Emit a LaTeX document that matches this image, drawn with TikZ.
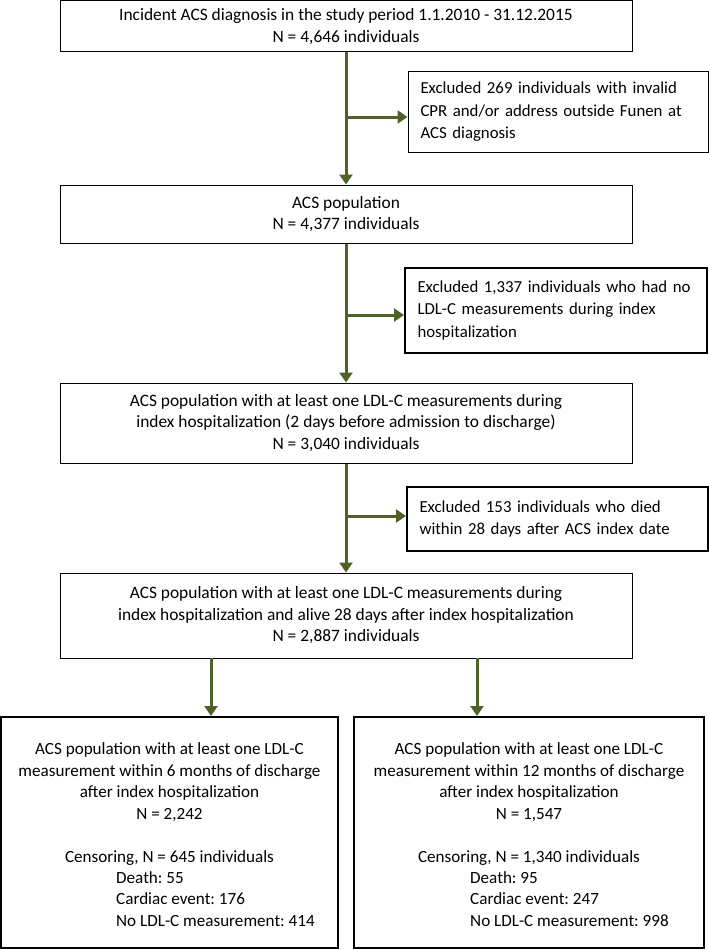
\documentclass[tikz,border=0pt]{standalone}
\usepackage{fontspec}
\setmainfont{Carlito}
\usetikzlibrary{arrows.meta,calc}
\definecolor{arrgreen}{HTML}{4F6228}
\frenchspacing
\begin{document}
\begin{tikzpicture}[x=1pt,y=-1pt,
  every node/.style={font=\fontsize{17.4}{21.5}\selectfont},
  mainbox/.style={draw=black,line width=1pt,inner sep=0pt,align=center},
  exbox/.style={draw=black,inner xsep=12.5pt,inner ysep=0pt,align=left,font=\fontsize{16.8}{22.5}\selectfont},
  finalbox/.style={draw=black,line width=2pt,inner sep=0pt},
  plain/.style={inner sep=0pt,font=\fontsize{17.1}{21.5}\selectfont},
  arr/.style={draw=arrgreen,line width=3pt,-{Triangle[width=13pt,length=10pt]}}]
\useasboundingbox (0,0) rectangle (709,950);

\node[mainbox,minimum width=572pt,minimum height=51pt] (b1) at (346,26.5)
  {Incident ACS diagnosis in the study period 1.1.2010 - 31.12.2015\\N = 4,646 individuals};
\node[exbox,line width=1pt,minimum width=300pt,minimum height=80pt,text width=275pt] (e1) at (558,112)
  {\mbox{Excluded 269 individuals with invalid}\\\mbox{CPR and/or address outside Funen at}\\\mbox{ACS diagnosis}};
\node[mainbox,minimum width=572pt,minimum height=58pt] (b2) at (346,214)
  {ACS population\\N = 4,377 individuals};
\node[exbox,line width=2pt,minimum width=302pt,minimum height=85pt,text width=277pt] (e2) at (556,310.5)
  {\mbox{Excluded 1,337 individuals who had no}\\\mbox{LDL-C measurements during index}\\\mbox{hospitalization}};
\node[mainbox,minimum width=572pt,minimum height=80pt] (b3) at (346,423)
  {ACS population with at least one LDL-C measurements during\\index hospitalization (2 days before admission to discharge)\\N = 3,040 individuals};
\node[exbox,line width=2pt,minimum width=301pt,minimum height=64pt,text width=276pt] (e3) at (557.5,519)
  {\mbox{Excluded 153 individuals who died}\\\mbox{within 28 days after ACS index date}};
\node[mainbox,minimum width=572pt,minimum height=85pt] (b4) at (346,615.5)
  {ACS population with at least one LDL-C measurements during\\index hospitalization and alive 28 days after index hospitalization\\N = 2,887 individuals};

\node[finalbox,minimum width=337pt,minimum height=231pt] (bl) at (169.5,832.5) {};
\node[finalbox,minimum width=350pt,minimum height=231pt] (br) at (529,832.5) {};

\node[plain,align=center] (blt) at (169.5,804)
  {ACS population with at least one LDL-C\\measurement within 6 months of discharge\\after index hospitalization\\N = 2,242\\[21.5pt]Censoring, N = 645 individuals};
\node[plain,align=left,anchor=west] (bll) at (116,899)
  {Death: 55\\Cardiac event: 176\\No LDL-C measurement: 414};
\node[plain,align=center] (brt) at (529,804)
  {ACS population with at least one LDL-C\\measurement within 12 months of discharge\\after index hospitalization\\N = 1,547\\[21.5pt]Censoring, N = 1,340 individuals};
\node[plain,align=left,anchor=west] (brl) at (470,899)
  {Death: 95\\Cardiac event: 247\\No LDL-C measurement: 998};

\coordinate (j1) at (346,117);
\coordinate (j2) at (346,315);
\coordinate (j3) at (346,516);
\coordinate (s1) at (211,658);
\coordinate (s2) at (477,658);

\draw[arr] (b1.south) -- (b2.north);
\draw[arr] (j1) -- (j1 -| e1.west);
\draw[arr] (b2.south) -- (b3.north);
\draw[arr] (j2) -- (j2 -| e2.west);
\draw[arr] (b3.south) -- (b4.north);
\draw[arr] (j3) -- (j3 -| e3.west);
\draw[arr] (s1) -- (s1 |- bl.north);
\draw[arr] (s2) -- (s2 |- br.north);
\end{tikzpicture}
\end{document}
